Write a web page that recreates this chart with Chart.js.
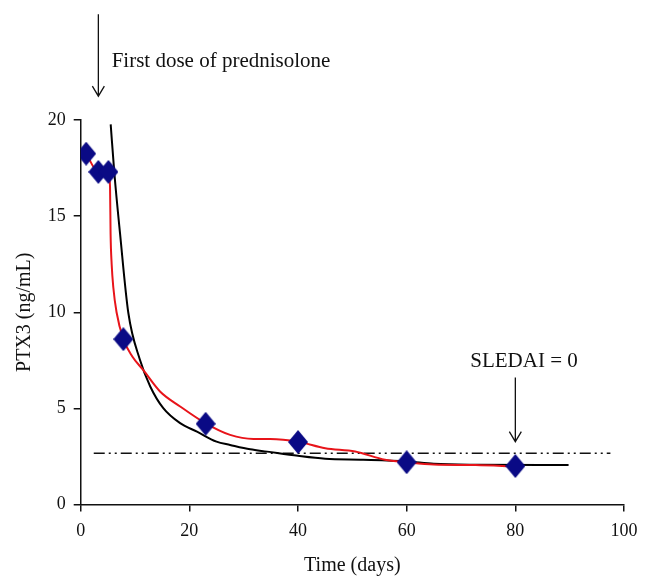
<!DOCTYPE html>
<html>
<head>
<meta charset="utf-8">
<script src="https://cdn.jsdelivr.net/npm/chart.js@4"></script>
<style>
  body { margin: 0; background: #fff; }
</style>
</head>
<body>
<canvas id="ptx3" width="653" height="586"></canvas>
<script>
// measured PTX3 values (diamonds)
var measDays = [1, 3.25, 5.1, 7.85, 23, 40, 60, 80];
var measPtx3 = [18.25, 17.3, 17.3, 8.6, 4.2, 3.25, 2.2, 2.0];

// red trend line
var redDays = [1, 3.25, 5.1, 5.4, 5.5, 5.7, 6.0, 6.6, 7.85, 9.5, 11.5, 14.6, 18.3, 23, 27.5, 31.8, 34.9, 40, 45, 50.5, 56, 60, 65, 72.7, 80];
var redPtx3 = [18.25, 17.3, 17.3, 16.5, 14.1, 12.5, 11.3, 10.0, 8.6, 7.7, 7.0, 5.88, 5.1, 4.22, 3.62, 3.41, 3.41, 3.27, 2.93, 2.76, 2.33, 2.2, 2.08, 2.05, 1.97];

// black fitted curve
var fitDays = [5.52, 6.19, 7.24, 8.77, 10.9, 12.8, 15.2, 18.3, 21.4, 25, 27.5, 31.2, 34.3, 40, 45, 52, 60, 65, 72.7, 89.8];
var fitPtx3 = [19.77, 17.25, 14.1, 9.96, 7.53, 6.14, 5.01, 4.23, 3.79, 3.27, 3.1, 2.87, 2.75, 2.53, 2.38, 2.33, 2.24, 2.12, 2.07, 2.05];

// dash-dot reference level
var refDays = [2.4, 97.5];
var refLevel = [2.67, 2.67];

var xTicks = [0, 20, 40, 60, 80, 100];
var yTicks = [0, 5, 10, 15, 20];

function pts(xs, ys) {
  return xs.map(function (x, i) { return { x: x, y: ys[i] }; });
}

var FONT = '"Liberation Serif", "Times New Roman", serif';

// slightly tall diamond marker
var diamond = document.createElement('canvas');
diamond.width = 20;
diamond.height = 24;
(function () {
  var c = diamond.getContext('2d');
  c.fillStyle = '#0a0a85';
  c.beginPath();
  c.moveTo(10, 0);
  c.lineTo(20, 12);
  c.lineTo(10, 24);
  c.lineTo(0, 12);
  c.closePath();
  c.fill();
})();

// arrows + annotation text placed in data coordinates
var notes = {
  id: 'notes',
  afterDatasetsDraw: function (chart) {
    var ctx = chart.ctx, xs = chart.scales.x, ys = chart.scales.y;
    function arrow(xv, y0, y1) {
      var px = xs.getPixelForValue(xv);
      var a = ys.getPixelForValue(y0), b = ys.getPixelForValue(y1);
      ctx.save();
      ctx.strokeStyle = '#111';
      ctx.lineWidth = 1.3;
      ctx.beginPath();
      ctx.moveTo(px, a);
      ctx.lineTo(px, b);
      ctx.moveTo(px - 6, b - 10);
      ctx.lineTo(px, b);
      ctx.lineTo(px + 6, b - 10);
      ctx.stroke();
      ctx.restore();
    }
    arrow(3.25, 25.5, 21.24);
    arrow(80, 6.6, 3.27);

    ctx.save();
    ctx.fillStyle = '#111';
    ctx.font = '21px ' + FONT;
    ctx.textBaseline = 'middle';
    ctx.textAlign = 'left';
    ctx.fillText('First dose of prednisolone', xs.getPixelForValue(5.7), ys.getPixelForValue(23.05));
    ctx.textAlign = 'center';
    ctx.fillText('SLEDAI = 0', xs.getPixelForValue(81.6), ys.getPixelForValue(7.42));
    ctx.restore();
  }
};

new Chart(document.getElementById('ptx3'), {
  type: 'scatter',
  data: {
    datasets: [
      {
        label: 'PTX3',
        data: pts(measDays, measPtx3),
        showLine: false,
        pointStyle: diamond,
        pointRadius: 12
      },
      {
        label: 'trend',
        data: pts(redDays, redPtx3),
        showLine: true,
        borderColor: '#e8141a',
        borderWidth: 2,
        cubicInterpolationMode: 'monotone',
        pointRadius: 0
      },
      {
        label: 'fit',
        data: pts(fitDays, fitPtx3),
        showLine: true,
        borderColor: '#000',
        borderWidth: 2,
        cubicInterpolationMode: 'monotone',
        pointRadius: 0
      },
      {
        label: 'reference',
        data: pts(refDays, refLevel),
        showLine: true,
        borderColor: '#111',
        borderWidth: 1.5,
        borderDash: [11, 4, 2, 4, 2, 4],
        pointRadius: 0
      }
    ]
  },
  options: {
    responsive: false,
    animation: false,
    layout: { padding: { left: 0, top: 120, right: 29, bottom: 0 } },
    plugins: {
      legend: { display: false },
      tooltip: { enabled: false }
    },
    scales: {
      x: {
        type: 'linear',
        min: 0,
        max: 100,
        afterBuildTicks: function (s) { s.ticks = xTicks.map(function (v) { return { value: v }; }); },
        afterFit: function (s) { s.height = 81.5; },
        border: { color: '#111', width: 1.5 },
        grid: { drawOnChartArea: false, tickLength: 7, color: '#111', lineWidth: 1.5 },
        ticks: { color: '#111', padding: 9, font: { family: FONT, size: 18 } },
        title: { display: true, text: 'Time (days)', color: '#111', padding: { top: 4, bottom: 8 }, font: { family: FONT, size: 20 } }
      },
      y: {
        type: 'linear',
        min: 0,
        max: 20,
        afterBuildTicks: function (s) { s.ticks = yTicks.map(function (v) { return { value: v }; }); },
        afterFit: function (s) { s.width = 80.7; },
        border: { color: '#111', width: 1.5 },
        grid: { drawOnChartArea: false, tickLength: 7, color: '#111', lineWidth: 1.5 },
        ticks: { color: '#111', padding: 8, font: { family: FONT, size: 18 } },
        title: { display: true, text: 'PTX3 (ng/mL)', color: '#111', padding: { top: 13, bottom: 0 }, font: { family: FONT, size: 20 } }
      }
    }
  },
  plugins: [notes]
});
</script>
</body>
</html>
